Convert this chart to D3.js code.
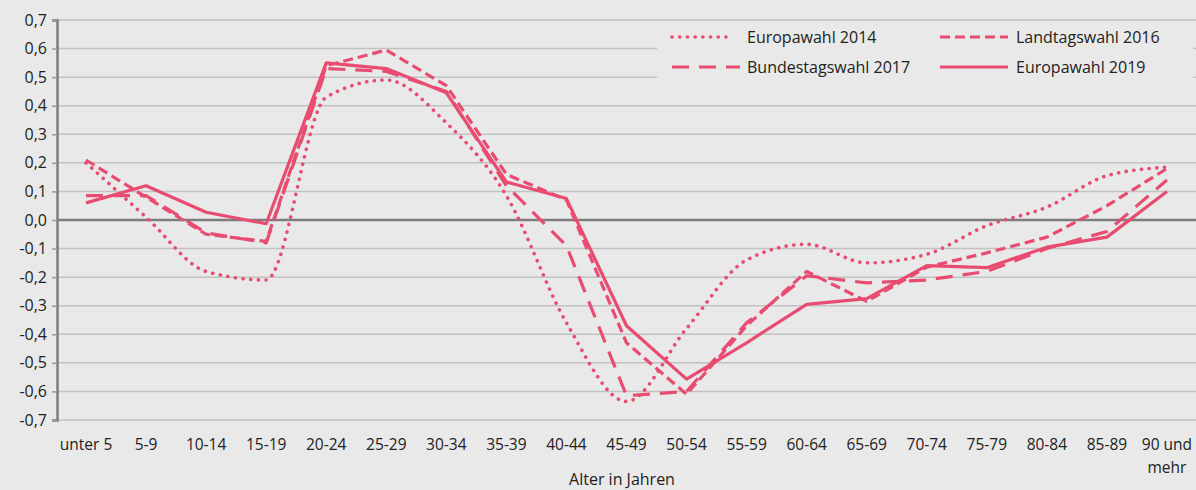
<!DOCTYPE html>
<html>
<head>
<meta charset="utf-8">
<title>Wahlbeteiligung nach Alter</title>
<script src="https://cdn.jsdelivr.net/npm/d3@7"></script>
<style>
	body { margin: 0; background: #e9e9e9; }
	svg { display: block; font-family: "Open Sans", sans-serif; }
	.tick-label { font-size: 15.5px; fill: #222; }
	.y-label { font-size: 16px; fill: #222; }
	.legend-label { font-size: 16px; fill: #222; }
</style>
</head>
<body>
<div class="chart"></div>
<script>
// Altersgruppen
var ageGroups = ["unter 5", "5-9", "10-14", "15-19", "20-24", "25-29", "30-34", "35-39", "40-44",
	"45-49", "50-54", "55-59", "60-64", "65-69", "70-74", "75-79", "80-84", "85-89", "90 und mehr"];

var europa2014 = [0.20, 0.01, -0.18, -0.21, 0.43, 0.49, 0.34, 0.085, -0.36, -0.635, -0.38, -0.14,
	-0.085, -0.15, -0.12, -0.02, 0.045, 0.155, 0.185];
var landtag2016 = [0.21, 0.08, -0.05, -0.075, 0.54, 0.595, 0.47, 0.16, 0.07, -0.43, -0.61, -0.37,
	-0.18, -0.285, -0.165, -0.115, -0.06, 0.05, 0.18];
var bundestag2017 = [0.085, 0.085, -0.045, -0.08, 0.53, 0.52, 0.45, 0.12, -0.09, -0.615, -0.60, -0.36,
	-0.195, -0.22, -0.21, -0.18, -0.10, -0.04, 0.14];
var europa2019 = [0.06, 0.12, 0.027, -0.013, 0.55, 0.53, 0.445, 0.133, 0.075, -0.37, -0.557, -0.43,
	-0.295, -0.275, -0.16, -0.167, -0.095, -0.06, 0.10];

var yTicks = [-0.7, -0.6, -0.5, -0.4, -0.3, -0.2, -0.1, 0, 0.1, 0.2, 0.3, 0.4, 0.5, 0.6, 0.7];

var seriesNames = ["Europawahl 2014", "Landtagswahl 2016", "Bundestagswahl 2017", "Europawahl 2019"];

var pink = "#e94c71";
var width = 1196, height = 490;
var plotLeft = 57, plotRight = 1196, plotTop = 20, plotBottom = 420;

var svg = d3.select(".chart").append("svg")
	.attr("width", width)
	.attr("height", height);

var x = d3.scaleBand().domain(ageGroups).range([56, 1197]).padding(0);
var y = d3.scaleLinear().domain([-0.7, 0.7]).range([plotBottom, plotTop]);
var cx = function(d) { return x(d) + x.bandwidth() / 2; };

var fmt = function(v) { return d3.format(".1f")(Math.abs(v) < 1e-9 ? 0 : v).replace(".", ",").replace("−", "-"); };

// gridlines
svg.append("g")
	.selectAll("line")
	.data(yTicks.filter(function(t) { return t !== 0; }))
	.enter().append("line")
	.attr("x1", plotLeft).attr("x2", plotRight)
	.attr("y1", function(d) { return y(d); })
	.attr("y2", function(d) { return y(d); })
	.attr("stroke", "#c2c2c2")
	.attr("stroke-width", 1.5);

// y axis
var yAxis = d3.axisLeft(y).tickValues(yTicks).tickSize(5).tickPadding(5).tickFormat(fmt);
var ya = svg.append("g").attr("transform", "translate(" + plotLeft + ",0)").call(yAxis);
ya.attr("font-family", null).attr("font-size", null);
ya.select(".domain").attr("stroke", "#7d7d7d").attr("stroke-width", 2.5);
ya.selectAll(".tick line").attr("stroke", "#9a9a9a").attr("stroke-width", 1.5);
ya.selectAll(".tick text").attr("class", "y-label").attr("fill", null);

// zero line
svg.append("line")
	.attr("x1", plotLeft).attr("x2", plotRight)
	.attr("y1", y(0)).attr("y2", y(0))
	.attr("stroke", "#7d7d7d")
	.attr("stroke-width", 2.5);

// x labels
var xl = svg.append("g").selectAll("text")
	.data(ageGroups)
	.enter().append("text")
	.attr("class", "tick-label")
	.attr("text-anchor", "middle")
	.attr("x", function(d) { return cx(d); })
	.attr("y", 450);
xl.each(function(d) {
	var t = d3.select(this);
	if (d === "90 und mehr") {
		t.append("tspan").attr("x", cx(d)).text("90 und");
		t.append("tspan").attr("x", cx(d)).attr("dy", 23).text("mehr");
	} else {
		t.text(d);
	}
});

svg.append("text")
	.attr("class", "legend-label")
	.attr("text-anchor", "middle")
	.attr("x", 622)
	.attr("y", 485)
	.text("Alter in Jahren");

// legend background covers gridlines
svg.append("rect")
	.attr("x", 657).attr("y", 23)
	.attr("width", 536).attr("height", 68)
	.attr("fill", "#e9e9e9");

var styles = [
	{ dash: "0.1 7.6", cap: "round", w: 3.6, curve: d3.curveMonotoneX },
	{ dash: "10 5", cap: "butt", w: 3.2, curve: d3.curveLinear },
	{ dash: "17 10", cap: "butt", w: 3.2, curve: d3.curveLinear },
	{ dash: null, cap: "butt", w: 3.2, curve: d3.curveLinear }
];
var allSeries = [europa2014, landtag2016, bundestag2017, europa2019];

allSeries.forEach(function(values, i) {
	var line = d3.line()
		.x(function(d, j) { return cx(ageGroups[j]); })
		.y(function(d) { return y(d); })
		.curve(styles[i].curve);
	svg.append("path")
		.datum(values)
		.attr("d", line)
		.attr("fill", "none")
		.attr("stroke", pink)
		.attr("stroke-width", styles[i].w)
		.attr("stroke-linecap", styles[i].cap)
		.attr("stroke-linejoin", "round")
		.attr("stroke-dasharray", styles[i].dash);
});

// legend
var legendPos = [
	{ x1: 672, x2: 733, tx: 747, y: 37 },
	{ x1: 940, x2: 1008, tx: 1016, y: 37 },
	{ x1: 672, x2: 740, tx: 747, y: 67 },
	{ x1: 940, x2: 1008, tx: 1016, y: 67 }
];
seriesNames.forEach(function(name, i) {
	var p = legendPos[i];
	svg.append("line")
		.attr("x1", p.x1).attr("x2", p.x2)
		.attr("y1", p.y).attr("y2", p.y)
		.attr("stroke", pink)
		.attr("stroke-width", styles[i].w)
		.attr("stroke-linecap", styles[i].cap)
		.attr("stroke-dasharray", styles[i].dash);
	svg.append("text")
		.attr("class", "legend-label")
		.attr("x", p.tx)
		.attr("y", p.y + 6)
		.text(name);
});
</script>
</body>
</html>
